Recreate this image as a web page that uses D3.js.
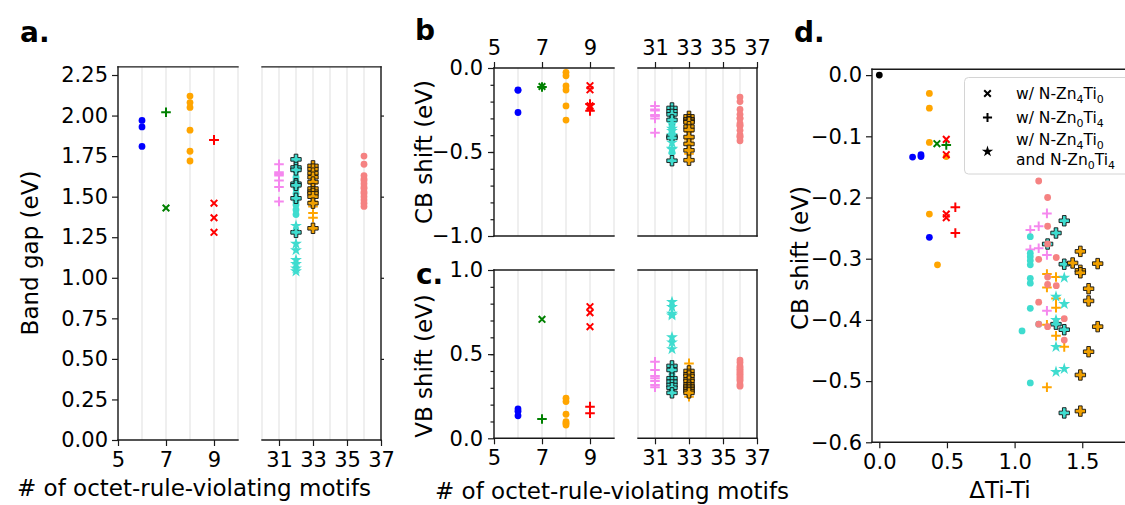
<!DOCTYPE html>
<html><head><meta charset="utf-8">
<script src="https://cdn.jsdelivr.net/npm/d3@7"></script>
<style>body{margin:0;background:#fff}svg{display:block}</style>
</head><body>
<svg id="chart" width="1125" height="505"></svg>
<script>
// ---------------- DATA ----------------
// series order (drawing order)
const seriesNames = ['blue','orange','green-x','green-plus','red-x','red-plus','violet-plus',
  'turquoise-circle','orange-plus','turquoise-P','orange-P','turquoise-star','salmon'];
const motifCount = [6, 8, 7, 7, 9, 9, 31, 32, 33, 32, 33, 32, 36];

const bandGap = [
  [1.97, 1.93, 1.81],
  [2.12, 2.08, 2.05, 1.91, 1.78, 1.72],
  [1.43],
  [2.02],
  [1.46, 1.37, 1.28],
  [1.85, 1.85],
  [1.70, 1.65, 1.64, 1.63, 1.60, 1.56, 1.47],
  [1.66, 1.62, 1.60, 1.58, 1.55, 1.52, 1.49, 1.47, 1.45, 1.42, 1.39],
  [1.63, 1.58, 1.55, 1.52, 1.50, 1.47, 1.44, 1.40, 1.37],
  [1.73, 1.68, 1.665, 1.58, 1.57, 1.49, 1.28],
  [1.69, 1.67, 1.645, 1.62, 1.59, 1.55, 1.53, 1.52, 1.50, 1.46, 1.305],
  [1.32, 1.21, 1.17, 1.11, 1.085, 1.058, 1.04],
  [1.75, 1.70, 1.63, 1.61, 1.60, 1.58, 1.56, 1.55, 1.53, 1.52, 1.50, 1.48, 1.46, 1.44]
];
const cbShift = [
  [-0.13, -0.133, -0.265],
  [-0.026, -0.046, -0.107, -0.131, -0.226, -0.31],
  [-0.11],
  [-0.113],
  [-0.105, -0.13, -0.225, -0.235],
  [-0.215, -0.255],
  [-0.226, -0.247, -0.253, -0.28, -0.285, -0.30, -0.385],
  [-0.264, -0.291, -0.297, -0.303, -0.31, -0.332, -0.34, -0.381, -0.407, -0.418, -0.503],
  [-0.325, -0.33, -0.347, -0.365, -0.38, -0.408, -0.426, -0.444, -0.51],
  [-0.238, -0.258, -0.276, -0.309, -0.407, -0.416, -0.552],
  [-0.288, -0.307, -0.308, -0.319, -0.323, -0.349, -0.369, -0.411, -0.452, -0.49, -0.549],
  [-0.331, -0.362, -0.374, -0.40, -0.444, -0.485, -0.48],
  [-0.173, -0.200, -0.247, -0.276, -0.298, -0.301, -0.33, -0.342, -0.344, -0.371, -0.398, -0.407, -0.411, -0.433]
];
const vbShift = [
  [0.174, 0.16, 0.134],
  [0.238, 0.218, 0.143, 0.099, 0.09, 0.079],
  [0.707],
  [0.115],
  [0.782, 0.746, 0.663],
  [0.188, 0.149],
  [0.455, 0.406, 0.37, 0.357, 0.34, 0.317, 0.303],
  [0.42, 0.40, 0.38, 0.36, 0.35, 0.34, 0.33, 0.32, 0.30, 0.29, 0.28],
  [0.445, 0.40, 0.38, 0.36, 0.33, 0.31, 0.29, 0.27, 0.247],
  [0.43, 0.406, 0.357, 0.336, 0.317, 0.30, 0.27],
  [0.40, 0.38, 0.37, 0.35, 0.34, 0.32, 0.31, 0.30, 0.29, 0.28, 0.27],
  [0.81, 0.78, 0.74, 0.73, 0.60, 0.57, 0.53],
  [0.465, 0.45, 0.43, 0.42, 0.41, 0.40, 0.39, 0.38, 0.37, 0.36, 0.35, 0.34, 0.32, 0.31]
];
// panel d: ΔTi-Ti vs CB shift
const dTiTi = [
  [0.246, 0.308, 0.308, 0.37],
  [0.37, 0.37, 0.37, 0.495, 0.37, 0.43],
  [0.426],
  [0.495],
  [0.495, 0.495, 0.495, 0.495],
  [0.562, 0.562],
  [1.239, 1.178, 1.116, 1.116, 1.178, 1.239, 1.239],
  [1.116, 1.116, 1.116, 1.116, 1.116, 1.116, 1.116, 1.116, 1.178, 1.055, 1.116],
  [1.239, 1.306, 1.239, 1.306, 1.306, 1.239, 1.306, 1.367, 1.239],
  [1.367, 1.306, 1.244, 1.367, 1.306, 1.367, 1.367],
  [1.486, 1.429, 1.614, 1.486, 1.486, 1.547, 1.547, 1.614, 1.547, 1.486, 1.486],
  [1.367, 1.306, 1.367, 1.306, 1.306, 1.306, 1.367],
  [1.178, 1.244, 1.244, 1.244, 1.178, 1.308, 1.244, 1.244, 1.308, 1.178, 1.367, 1.178, 1.244, 1.367]
];
const cbShiftD = [
  [-0.134, -0.13, -0.133, -0.265],
  [-0.03, -0.054, -0.11, -0.133, -0.227, -0.31],
  [-0.112],
  [-0.114],
  [-0.105, -0.13, -0.227, -0.233],
  [-0.216, -0.258],
  [-0.226, -0.247, -0.253, -0.285, -0.283, -0.294, -0.385],
  [-0.264, -0.291, -0.297, -0.303, -0.31, -0.332, -0.34, -0.381, -0.407, -0.418, -0.503],
  [-0.325, -0.33, -0.347, -0.365, -0.38, -0.408, -0.426, -0.444, -0.51],
  [-0.238, -0.258, -0.276, -0.309, -0.407, -0.416, -0.552],
  [-0.288, -0.307, -0.308, -0.319, -0.323, -0.349, -0.369, -0.411, -0.452, -0.49, -0.549],
  [-0.331, -0.362, -0.374, -0.40, -0.444, -0.485, -0.48],
  [-0.173, -0.200, -0.247, -0.276, -0.301, -0.298, -0.33, -0.342, -0.344, -0.371, -0.398, -0.407, -0.411, -0.433]
];
const refTiTi = [0.0];
const refCb = [0.0];

const gapTicks = [0, 0.25, 0.5, 0.75, 1.0, 1.25, 1.5, 1.75, 2.0, 2.25];
const motifTicksLow = [5, 7, 9];
const motifTicksHigh = [31, 33, 35, 37];
const cbTicks = [-1.0, -0.5, 0.0];
const vbTicks = [0.0, 0.5, 1.0];
const dYTicks = [0.0, -0.1, -0.2, -0.3, -0.4, -0.5, -0.6];
const dXTicks = [0.0, 0.5, 1.0, 1.5];
const legendLabels = [
  [['w/ N-Zn',0],['4',1],['Ti',0],['0',1]],
  [['w/ N-Zn',0],['0',1],['Ti',0],['4',1]],
  [['w/ N-Zn',0],['4',1],['Ti',0],['0',1]],
  [['and N-Zn',0],['0',1],['Ti',0],['4',1]]
];

// ---------------- STYLE ----------------
const seriesColor = ['#0000ff','#ffa500','#008000','#008000','#ff0000','#ff0000','#f587ee',
  '#3fdccf','#ffa500','#3fdccf','#f0a000','#3fdccf','#f58282'];
const seriesMarker = ['o','o','x','+','x','+','+','o','+','P','P','*','o'];
const FONT = '"DejaVu Sans", "Liberation Sans", sans-serif';

const svg = d3.select('#chart');
const defs = svg.append('defs');

function starPath(R){
  const r = R*0.382; let p = [];
  for (let k=0;k<10;k++){
    const a = -Math.PI/2 + k*Math.PI/5, rr = k%2===0?R:r;
    p.push([rr*Math.cos(a), rr*Math.sin(a)]);
  }
  return 'M'+p.map(q=>q[0].toFixed(2)+','+q[1].toFixed(2)).join('L')+'Z';
}
function drawMarker(g, m, color, cx, cy, scale){
  scale = scale||1;
  const t = `translate(${cx},${cy})`;
  if (m==='o') {
    g.append('circle').attr('cx',cx).attr('cy',cy).attr('r',3.4*scale).attr('fill',color);
  } else if (m==='x') {
    const a=3.3*scale;
    g.append('path').attr('transform',t).attr('d',`M${-a},${-a}L${a},${a}M${-a},${a}L${a},${-a}`)
      .attr('stroke',color).attr('stroke-width',2).attr('fill','none');
  } else if (m==='+') {
    const b=4.8*scale;
    g.append('path').attr('transform',t).attr('d',`M${-b},0H${b}M0,${-b}V${b}`)
      .attr('stroke',color).attr('stroke-width',2).attr('fill','none');
  } else if (m==='P') {
    const L=5.2*scale, w=1.8*scale;
    g.append('path').attr('transform',t)
      .attr('d',`M${-w},${-L}H${w}V${-w}H${L}V${w}H${w}V${L}H${-w}V${w}H${-L}V${-w}H${-w}Z`)
      .attr('fill',color).attr('stroke','#111').attr('stroke-width',0.9);
  } else if (m==='*') {
    g.append('path').attr('transform',t).attr('d',starPath(6.3*scale)).attr('fill',color);
  }
}

let clipN = 0;
function makeAx(xr, yr, xd, yd){
  const x = d3.scaleLinear(xd, xr), y = d3.scaleLinear(yd, yr);
  const id = 'clip'+(clipN++);
  defs.append('clipPath').attr('id',id).append('rect')
    .attr('x',xr[0]).attr('y',yr[1]).attr('width',xr[1]-xr[0]).attr('height',yr[0]-yr[1]);
  const grid = svg.append('g');
  const data = svg.append('g').attr('clip-path',`url(#${id})`);
  const deco = svg.append('g');
  return {x,y,grid,data,deco,xr,yr};
}
function vgrid(ax, from, to){
  for (let n=from;n<=to;n++){
    ax.grid.append('line').attr('x1',ax.x(n)).attr('x2',ax.x(n)).attr('y1',ax.yr[0]).attr('y2',ax.yr[1])
      .attr('stroke','#e6e6e6').attr('stroke-width',1.3);
  }
}
function spines(ax, which){
  const [x0,x1]=ax.xr, [y1,y0]=ax.yr;
  const seg = {left:[x0,y0,x0,y1], right:[x1,y0,x1,y1], top:[x0,y0,x1,y0], bottom:[x0,y1,x1,y1]};
  which.forEach(k=>{
    const s=seg[k];
    ax.deco.append('line').attr('x1',s[0]).attr('y1',s[1]).attr('x2',s[2]).attr('y2',s[3])
      .attr('stroke','#1a1a1a').attr('stroke-width',1.4).attr('stroke-linecap','square');
  });
}
function styleAxis(sel, fs){
  sel.select('.domain').remove();
  sel.attr('font-family',null).attr('font-size',null);
  sel.selectAll('text').attr('font-size',fs||21).attr('font-family',FONT).attr('fill','#000');
  sel.selectAll('line').attr('stroke','#1a1a1a').attr('stroke-width',1.2);
}
function addAxis(ax, orient, vals, fmt, size, pad){
  let a, tr;
  if (orient==='left'){ a=d3.axisLeft(ax.y); tr=`translate(${ax.xr[0]},0)`; }
  if (orient==='right'){ a=d3.axisRight(ax.y); tr=`translate(${ax.xr[1]},0)`; }
  if (orient==='bottom'){ a=d3.axisBottom(ax.x); tr=`translate(0,${ax.yr[0]})`; }
  if (orient==='top'){ a=d3.axisTop(ax.x); tr=`translate(0,${ax.yr[1]})`; }
  a.tickValues(vals).tickSize(size).tickPadding(pad).tickFormat(fmt===null?()=> '':fmt);
  const g = ax.deco.append('g').attr('transform',tr).call(a);
  styleAxis(g);
  return g;
}
function plotPanel(axL, axR, values){
  values.forEach((arr,i)=>{
    const ax = motifCount[i] < 20 ? axL : axR;
    arr.forEach(v=>drawMarker(ax.data, seriesMarker[i], seriesColor[i], ax.x(motifCount[i]), ax.y(v)));
  });
}
function label(x,y,txt,opts){
  opts=opts||{};
  const t=svg.append('text').attr('x',x).attr('y',y).text(txt)
    .attr('font-family',FONT).attr('font-size',opts.fs||23).attr('fill','#000')
    .attr('text-anchor',opts.anchor||'middle');
  if (opts.bold) t.attr('font-weight','bold');
  if (opts.rot) t.attr('transform',`rotate(-90,${x},${y})`);
  return t;
}
const f1 = d3.format('.1f'), f2 = d3.format('.2f'), fi = d3.format('d');

// ---------- Panel a ----------
const aL = makeAx([118,238],[440,66.9],[5,10],[0,2.3]);
const aR = makeAx([262,381],[440,66.9],[30,37],[0,2.3]);
vgrid(aL,5,10); vgrid(aR,30,37);
plotPanel(aL,aR,bandGap);
spines(aL,['left','top','bottom']); spines(aR,['right','top','bottom']);
addAxis(aL,'left',gapTicks,f2,6,4);
addAxis(aL,'bottom',motifTicksLow,fi,6,6);
addAxis(aR,'bottom',motifTicksHigh,fi,6,6);
addAxis(aR,'right',[0.5,1.0,1.5,2.0],null,3,0);
label(194,496,'# of octet-rule-violating motifs');
label(38,253,'Band gap (eV)',{rot:true});
label(20,42,'a.',{anchor:'start',bold:true,fs:28});

// ---------- Panel b ----------
const bL = makeAx([494,614],[236,68],[5,10],[-1,0]);
const bR = makeAx([638,757],[236,68],[30,37],[-1,0]);
vgrid(bL,5,10); vgrid(bR,30,37);
plotPanel(bL,bR,cbShift);
spines(bL,['left','top','bottom']); spines(bR,['right','top','bottom']);
addAxis(bL,'left',cbTicks,f1,6,5);
addAxis(bL,'left',d3.range(-9,0).map(k=>k/10),null,3.5,0);
addAxis(bL,'top',motifTicksLow,fi,6,7);
addAxis(bR,'top',motifTicksHigh,fi,6,7);
label(432,152,'CB shift (eV)',{rot:true});
label(415,40,'b',{anchor:'start',bold:true,fs:28});

// ---------- Panel c ----------
const cL = makeAx([494,614],[438.3,270],[5,10],[0,1]);
const cR = makeAx([638,757],[438.3,270],[30,37],[0,1]);
vgrid(cL,5,10); vgrid(cR,30,37);
plotPanel(cL,cR,vbShift);
spines(cL,['left','top','bottom']); spines(cR,['right','top','bottom']);
addAxis(cL,'left',vbTicks,f1,6,5);
addAxis(cL,'left',d3.range(1,10).map(k=>k/10),null,3.5,0);
addAxis(cL,'bottom',motifTicksLow,fi,6,6);
addAxis(cR,'bottom',motifTicksHigh,fi,6,6);
label(432,366,'VB shift (eV)',{rot:true});
label(612,499,'# of octet-rule-violating motifs');
label(416,284,'c.',{anchor:'start',bold:true,fs:28});

// ---------- Panel d ----------
const dA = makeAx([872,1129.6],[442.3,69.3],[-0.054,1.85],[-0.6,0.0095]);
refTiTi.forEach((v,k)=>drawMarker(dA.data,'o','#000',dA.x(v),dA.y(refCb[k])));
dTiTi.forEach((arr,i)=>{
  arr.forEach((v,k)=>drawMarker(dA.data, seriesMarker[i], seriesColor[i], dA.x(v), dA.y(cbShiftD[i][k])));
});
spines(dA,['left','top','bottom','right']);
addAxis(dA,'left',dYTicks,f1,6,4);
addAxis(dA,'bottom',dXTicks,f1,6,6);
label(808,258,'CB shift (eV)',{rot:true});
label(1000,498,'ΔTi-Ti');
label(794,42,'d.',{anchor:'start',bold:true,fs:28});

// legend
const lg = svg.append('g');
lg.append('rect').attr('x',964.5).attr('y',77.5).attr('width',185).attr('height',96.5).attr('rx',4)
  .attr('fill','#fff').attr('fill-opacity',0.85).attr('stroke','#d4d4d4').attr('stroke-width',1);
drawMarker(lg,'x','#000',987.5,93.5,1.0);
drawMarker(lg,'+','#000',987.5,117.5,0.95);
drawMarker(lg,'*','#000',987.5,151.5,0.95);
function subText(x,y,parts){
  const t = lg.append('text').attr('x',x).attr('y',y).attr('font-family',FONT).attr('font-size',15.5).attr('fill','#000');
  parts.forEach((p,k)=>{
    const prev = k>0 ? parts[k-1][1] : 0;
    const s = t.append('tspan').text(p[0]);
    if (p[1]) s.attr('font-size',11);
    s.attr('dy', p[1] && !prev ? 4 : (!p[1] && prev ? -4 : 0));
  });
}
subText(1016,99,legendLabels[0]);
subText(1016,123,legendLabels[1]);
subText(1016,145,legendLabels[2]);
subText(1016,165,legendLabels[3]);
</script>
</body></html>
